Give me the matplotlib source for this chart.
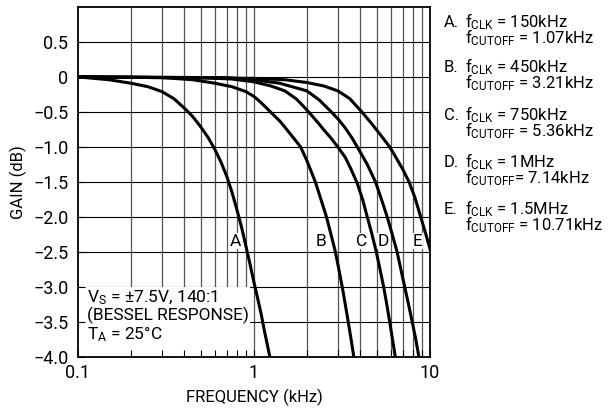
import matplotlib
matplotlib.use('Agg')
import matplotlib.pyplot as plt
from matplotlib.patches import Rectangle

plt.rcParams['font.family'] = ['Roboto', 'DejaVu Sans']
plt.rcParams['mathtext.fontset'] = 'custom'
plt.rcParams['mathtext.rm'] = 'Roboto'
plt.rcParams['mathtext.it'] = 'Roboto'
plt.rcParams['font.size'] = 12

# curves (kHz, dB)
A_f = [0.1, 0.15, 0.2, 0.25, 0.3, 0.35, 0.4, 0.45, 0.5, 0.55, 0.6, 0.65, 0.7, 0.75, 0.8,
       0.85, 0.9, 0.95, 1.0, 1.05, 1.1, 1.15, 1.23]
A_g = [0, -0.04, -0.09, -0.14, -0.21, -0.31, -0.44, -0.57, -0.72, -0.87, -1.04, -1.22, -1.42,
       -1.65, -1.9, -2.15, -2.42, -2.68, -2.94, -3.17, -3.4, -3.65, -4.0]
B_f = [0.1, 0.2, 0.3, 0.45, 0.6, 0.75, 0.9, 1.0, 1.1, 1.24, 1.4, 1.5, 1.65, 1.84, 2.0, 2.23,
       2.4, 2.58, 2.75, 2.9, 3.05, 3.17, 3.3, 3.43, 3.56, 3.69]
B_g = [0, -0.005, -0.01, -0.04, -0.09, -0.14, -0.21, -0.28, -0.37, -0.5, -0.63, -0.72, -0.85,
       -1.0, -1.2, -1.5, -1.75, -2.0, -2.27, -2.5, -2.78, -3.0, -3.25, -3.5, -3.75, -4.0]
C_f = [0.1, 0.5, 0.75, 1.0, 1.25, 1.5, 1.75, 1.96, 2.25, 2.5, 2.75, 3.03, 3.3, 3.56, 3.86,
       4.15, 4.4, 4.68, 4.95, 5.2, 5.45, 5.68, 5.9, 6.12, 6.35]
C_g = [0, -0.01, -0.03, -0.07, -0.13, -0.2, -0.32, -0.45, -0.62, -0.76, -0.88, -1.02, -1.15,
       -1.32, -1.52, -1.76, -2.0, -2.25, -2.5, -2.75, -3.0, -3.25, -3.5, -3.75, -4.0]
D_f = [0.1, 0.7, 1.0, 1.4, 2.0, 2.35, 2.7, 3.0, 3.3, 3.6, 3.86, 4.4, 4.9, 5.3, 5.71, 6.1,
       6.5, 6.83, 7.18, 7.55, 7.92, 8.3, 8.64]
D_g = [0, -0.01, -0.04, -0.09, -0.2, -0.33, -0.48, -0.6, -0.73, -0.87, -1.0, -1.25, -1.5,
       -1.75, -2.0, -2.25, -2.5, -2.75, -3.0, -3.25, -3.5, -3.75, -4.0]
E_f = [0.1, 1.0, 1.5, 2.0, 2.5, 3.0, 3.5, 4.1, 4.6, 5.2, 5.9, 6.4, 7.0, 7.6, 8.2, 8.85, 9.4, 10.0]
E_g = [0, -0.02, -0.04, -0.08, -0.13, -0.2, -0.31, -0.5, -0.65, -0.82, -1.0, -1.15, -1.32,
       -1.5, -1.72, -2.0, -2.22, -2.46]

curve_names = ['A', 'B', 'C', 'D', 'E']
label_f = [0.786, 2.39, 4.08, 5.46, 8.46]
label_g = -2.35

yticks = [-4.0, -3.5, -3.0, -2.5, -2.0, -1.5, -1.0, -0.5, 0, 0.5]
ytick_labels = ['\u22124.0', '\u22123.5', '\u22123.0', '\u22122.5', '\u22122.0',
                '\u22121.5', '\u22121.0', '\u22120.5', '0', '0.5']
xticks = [0.1, 1, 10]
xtick_labels = ['0.1', '1', '10']

legend_lines = [
    ('A.', 'f$_{\\mathrm{CLK}}$ = 150kHz', 'f$_{\\mathrm{CUTOFF}}$ = 1.07kHz'),
    ('B.', 'f$_{\\mathrm{CLK}}$ = 450kHz', 'f$_{\\mathrm{CUTOFF}}$ = 3.21kHz'),
    ('C.', 'f$_{\\mathrm{CLK}}$ = 750kHz', 'f$_{\\mathrm{CUTOFF}}$ = 5.36kHz'),
    ('D.', 'f$_{\\mathrm{CLK}}$ = 1MHz', 'f$_{\\mathrm{CUTOFF}}$= 7.14kHz'),
    ('E.', 'f$_{\\mathrm{CLK}}$ = 1.5MHz', 'f$_{\\mathrm{CUTOFF}}$ = 10.71kHz'),
]

fig = plt.figure(figsize=(6.11, 4.16), dpi=100)
ax = fig.add_axes([78 / 611, 1 - 356.7 / 416, 352 / 611, 349.7 / 416])
ax.set_xscale('log')
ax.set_xlim(0.1, 10)
ax.set_ylim(-4.0, 1.0)

# grid drawn by hand so the white note box can cover it but not the ticks
for dec in [0.1, 1]:
    for k in range(2, 11):
        ax.axvline(dec * k, color='#555555', lw=0.9, zorder=1)
for h in yticks:
    ax.axhline(h, color='black', lw=0.8, zorder=1)

ax.add_patch(Rectangle((0, 0), 0.489, 0.199, transform=ax.transAxes,
                       fc='white', ec='none', zorder=1.5))

for f, g in [(A_f, A_g), (B_f, B_g), (C_f, C_g), (D_f, D_g), (E_f, E_g)]:
    ax.plot(f, g, color='black', lw=2.2, zorder=4, solid_joinstyle='round')

for name, lf in zip(curve_names, label_f):
    ax.text(lf, label_g, name, ha='center', va='center', fontsize=12.5, zorder=3,
            bbox=dict(fc='white', ec='none', pad=0.5))

ax.set_yticks(yticks)
ax.set_yticklabels(ytick_labels)
ax.set_xticks(xticks)
ax.set_xticklabels(xtick_labels)
ax.set_axisbelow(False)
ax.tick_params(which='both', direction='in', length=5, width=0.8, color='black',
               labelsize=13)
ax.tick_params(axis='y', pad=7)
ax.tick_params(axis='x', pad=5)
for s in ax.spines.values():
    s.set_linewidth(1.3)
    s.set_zorder(5)

ax.set_xlabel('FREQUENCY (kHz)', fontsize=12, labelpad=5)
ax.set_ylabel('GAIN (dB)', fontsize=12, labelpad=4)

# note in the lower left
note_x = (87 - 78) / 352
for txt, base in [('V$_{\\mathrm{S}}$ = \u00b17.5V, 140:1', 302),
                  ('(BESSEL RESPONSE)', 320),
                  ('T$_{\\mathrm{A}}$ = 25\u00b0C', 339)]:
    ax.text(note_x, (356.7 - base) / 349.7, txt, transform=ax.transAxes,
            ha='left', va='baseline', fontsize=12.5, zorder=3)

# legend text at right
bases = [27, 72, 120, 167, 214]
for (tag, l1, l2), b in zip(legend_lines, bases):
    fig.text(444 / 611, 1 - b / 416, tag, ha='left', va='baseline', fontsize=12)
    fig.text(465 / 611, 1 - b / 416, l1, ha='left', va='baseline', fontsize=12)
    fig.text(465 / 611, 1 - (b + 16) / 416, l2, ha='left', va='baseline', fontsize=12)

fig.savefig('out.png', dpi=100)
